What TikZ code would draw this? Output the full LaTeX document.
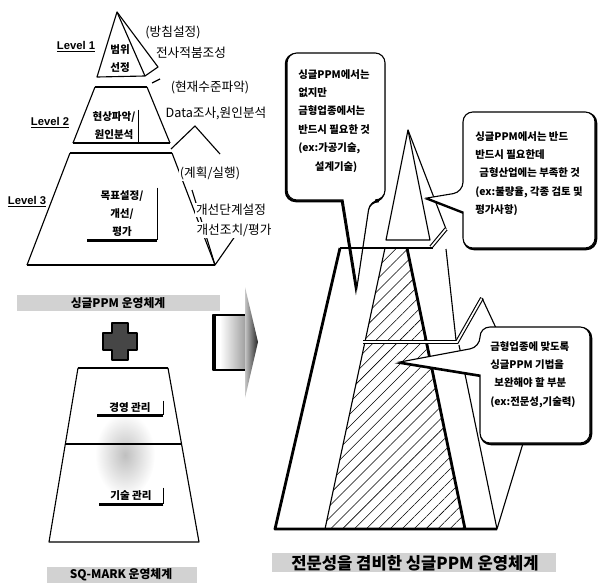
\documentclass[tikz,border=0pt]{standalone}
\usepackage{fontspec}
\setmainfont{Noto Sans CJK KR}
\newfontfamily\levelfamily{Liberation Sans}
\usetikzlibrary{patterns.meta}

\tikzset{
  thinline/.style={line width=0.8pt, line join=round},
  heavyline/.style={line width=2pt, line join=round},
  twinline/.style={double=white, double distance=1.2pt, line width=0.8pt},
  note/.style={inner sep=1pt, fill=white, font=\notefont},
  boxlabel/.style={inner sep=0pt, align=center, font=\boxfont},
  levellabel/.style={inner sep=1pt, font=\levelfont},
  bubbletext/.style={inner sep=0pt, align=left, anchor=north west, font=\bubblefont},
  bubble/.style={draw, fill=white, line width=0.8pt,
    preaction={draw, line width=1.6pt, transform canvas={xshift=#1, yshift=-0.8pt}}},
  bubble/.default=0.8pt,
  band/.style={fill=gray!35},
  hatch/.style={pattern={Lines[angle=45, distance=6pt, line width=0.4pt]}},
}

\begin{document}
\begin{tikzpicture}[x=0.025cm, y=-0.025cm]
    \providecommand{\notefont}{\fontsize{9pt}{11pt}\selectfont}
    \providecommand{\boxfont}{\bfseries\fontsize{7.5pt}{12.8pt}\selectfont}
    \providecommand{\levelfont}{\levelfamily\bfseries\fontsize{8pt}{9pt}\selectfont}
    \providecommand{\bubblefont}{\bfseries\fontsize{7.4pt}{13.1pt}\selectfont}
    \providecommand{\titlefont}{\bfseries\fontsize{8.4pt}{10pt}\selectfont}
    \providecommand{\captionfont}{\bfseries\fontsize{11.8pt}{14pt}\selectfont}
    \pgfmathsetmacro{\bubbleradius}{7}
    \useasboundingbox (0,0) rectangle (598,585);

    % single PPM pyramid
    \draw[thinline] (117,12) -- (97,77) -- (145,76) -- cycle;
    \draw[thinline] (117,12) -- (158,67) -- (145,76);
    \draw[thinline] (152,83) -- (160,79);
    \draw[thinline] (95,87) -- (73,143) (147,87) -- (170,143);
    \draw[heavyline] (95,87) -- (147,87) (73,143) -- (170,143);
    \draw[thinline] (171,149) -- (195,126) -- (220,154);
    \draw[thinline] (70,153) -- (27,265) (172,153) -- (215,265);
    \draw[heavyline] (70,153) -- (172,153) (27,265) -- (215,265);
    \draw[thinline] (192,190) -- (215,265) -- (238,232);

    \node[levellabel] (levelone) at (76,47) {\underline{Level 1}};
    \node[levellabel] (leveltwo) at (50,123) {\underline{Level 2}};
    \node[levellabel] (levelthree) at (27,202) {\underline{Level 3}};

    \node[boxlabel] (scope) at (120,59) {범위\\선정};
    \node[boxlabel, minimum width=1.2cm, minimum height=0.8cm] (situation) at (114,126) {현상파악/\\원인분석};
    \draw[thinline] (situation.north east) -- (situation.south east);
    \node[boxlabel, minimum width=1.75cm, minimum height=1.3cm] (target) at (122,214) {목표설정/\\개선/\\평가};
    \draw[thinline] (target.north east) -- (target.south east);
    \draw[heavyline] (target.south east) -- (target.south west);

    \node[note] (policy) at (173,32) {(방침설정)};
    \node[note] (boom) at (191,53) {전사적붐조성};
    \node[note] (status) at (210,88) {(현재수준파악)};
    \node[note] (analysis) at (216,113) {Data조사,원인분석};
    \node[note] (plan) at (210,173) {(계획/실행)};
    \node[note] (stepset) at (231,210) {개선단계설정};
    \node[note] (action) at (234,230) {개선조치/평가};

    % titles and plus
    \fill[band] (17,295) rectangle (220,311);
    \node[font=\titlefont, inner sep=1pt] (ppmtitle) at (118,303) {싱글PPM 운영체계};
    \draw[thinline, fill=gray!55!black] (112,323) -- (128,323) -- (128,333) -- (137,333) -- (137,350) -- (128,350)
        -- (128,360) -- (112,360) -- (112,350) -- (103,350) -- (103,333) -- (112,333) -- cycle;

    % SQ-MARK block
    \shade[inner color=gray!50, outer color=white] (125,455) ellipse (30 and 42);
    \draw[thinline] (78,368) -- (49,542) -- (199,542) -- (168,368);
    \draw[heavyline] (78,368) -- (168,368);
    \draw[thinline] (65,444) -- (182,444);
    \node[boxlabel, minimum width=1.65cm, minimum height=0.35cm] (management) at (130,408) {경영 관리};
    \draw[thinline] (management.north east) -- (management.south east);
    \draw[heavyline] (management.south east) -- (management.south west);
    \node[boxlabel, minimum width=1.6cm, minimum height=0.4cm] (technology) at (131,496) {기술 관리};
    \draw[thinline] (technology.north east) -- (technology.south east);
    \draw[heavyline] (technology.south east) -- (technology.south west);
    \fill[band] (47,567) rectangle (197,583);
    \node[font=\titlefont, inner sep=1pt] (sqtitle) at (121,575) {SQ-MARK 운영체계};

    % block arrow
    \shade[left color=white, right color=gray!80] (220,315) rectangle (247,370);
    \fill[black] (213,315) rectangle (216,370);
    \draw[thinline] (213,315) rectangle (247,370);
    \shade[left color=gray!45, right color=black!85] (245,287) -- (258,342) -- (245,398) -- cycle;

    % first bubble under the merged pyramid
    \draw[bubble=-0.8pt, rounded corners=\bubbleradius pt] (343,200) -- (287,200) -- (287,53) -- (385,53)
        -- (385,200) -- (370,200) [sharp corners] -- (357,287) -- cycle;
    \node[bubbletext] (missing) at (298,69) {싱글PPM에서는\\없지만\\금형업종에서는\\반드시 필요한 것\\(ex:가공기술,\\\hspace*{1.6em}설계기술)};

    % merged pyramid
    \fill[hatch] (385,248) -- (407,248) -- (465,529) -- (325,529) -- cycle;
    \draw[thinline] (408,130) -- (386,240) -- (430,240) -- cycle;
    \draw[thinline] (408,130) -- (446,229);
    \draw[twinline] (431,247) -- (446,229);
    \draw[heavyline] (340,248) -- (433,248);
    \draw[heavyline] (340,248) -- (275,529) -- (497,529);
    \draw[thinline] (385,248) -- (325,529);
    \draw[heavyline] (407,248) -- (465,529);
    \draw[thinline] (446,249) -- (456,340);
    \draw[twinline] (363,342) -- (457,342) -- (482,298);
    \draw[thinline] (482,298) -- (496,328);
    \draw[thinline] (459,345) -- (497,529) -- (524,440);

    \draw[bubble, rounded corners=\bubbleradius pt] (463,212) -- (463,248) -- (595,248) -- (595,112) -- (463,112)
        -- (463,192) [sharp corners] -- (427,198) -- cycle;
    \node[bubbletext] (lacking) at (475,131) {싱글PPM에서는 반드\\반드시 필요한데\\\hspace*{0.4em}금형산업에는 부족한 것\\(ex:불량율, 각종 검토 및\\평가사항)};

    \draw[bubble, rounded corners=\bubbleradius pt] (480,375) -- (480,443) -- (590,443) -- (590,327) -- (480,327)
        -- (480,347) [sharp corners] -- (400,362) -- cycle;
    \node[bubbletext] (supplement) at (490,341) {금형업종에 맞도록\\싱글PPM 기법을\\\hspace*{0.4em}보완해야 할 부분\\(ex:전문성,기술력)};

    \fill[band] (272,553) rectangle (556,572);
    \node[font=\captionfont, inner sep=1pt] (merged) at (415,563) {전문성을 겸비한 싱글PPM 운영체계};
\end{tikzpicture}
\end{document}
